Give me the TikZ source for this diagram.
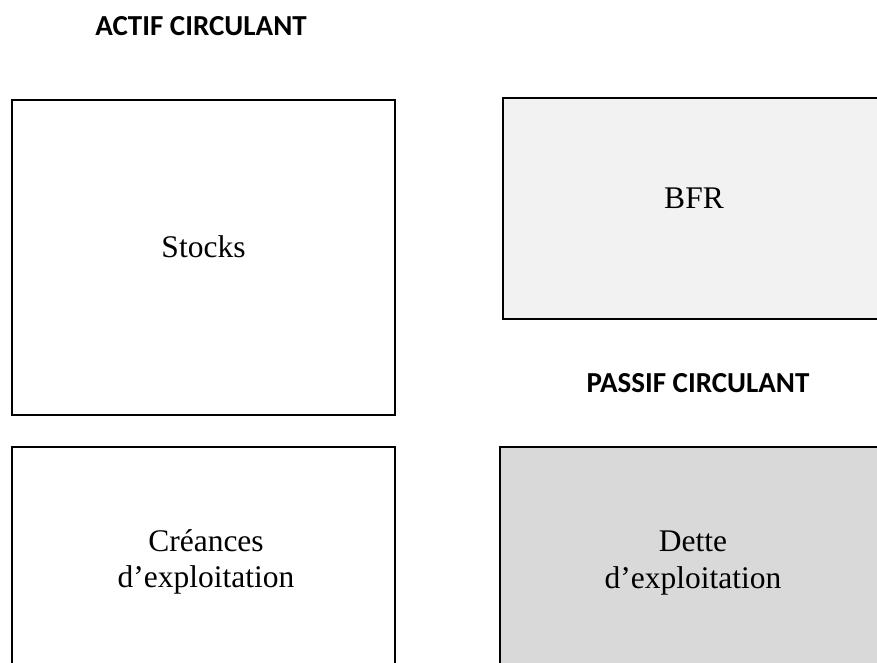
\documentclass[tikz,border=0pt]{standalone}
\usepackage{fontspec}
\setmainfont{Liberation Serif}
\newfontfamily\headfont{Carlito}
\usetikzlibrary{positioning}
\definecolor{bfrFill}{HTML}{F2F2F2}
\definecolor{detteFill}{HTML}{D9D9D9}
\tikzset{
    % Boxes
    posteBox/.style={
        rectangle,
        draw=black,
        line width=2.2pt,
        inner sep=0pt
    },
    % Texts
    posteText/.style={
        font=\fontsize{31.5}{36.5}\selectfont,
        align=center,
        inner sep=0pt
    },
    titreText/.style={
        font=\headfont\bfseries\fontsize{29}{33}\selectfont,
        inner sep=0pt,
        anchor=base
    }
}
\begin{document}
\begin{tikzpicture}[x=1pt, y=-1pt]

\clip (0,0) rectangle (877,662);
\fill[white] (0,0) rectangle (877,662);

% --- Titles ---
\node[titreText] (actif) at (201, 35) {ACTIF CIRCULANT};
\node[titreText] (passif) at (698, 392) {PASSIF CIRCULANT};

% --- Left column: actif ---
\node[posteBox, fill=white, minimum width=383pt, minimum height=315pt] (stocks) at (203.5, 257.5) {};
\node[posteText, anchor=base] (stocksTxt) at (203.5, 257) {Stocks};

\node[posteBox, fill=white, minimum width=383pt, minimum height=253pt] (creances) at (203.5, 573.5) {};
\node[posteText, anchor=north] (creancesTxt) at (206, 529) {Créances\\d’exploitation};

% --- Right column: BFR and passif ---
\node[posteBox, fill=bfrFill, minimum width=447pt, minimum height=221pt] (bfr) at (726.5, 208.5) {};
\node[posteText, anchor=base] (bfrTxt) at (694, 208) {BFR};

\node[posteBox, fill=detteFill, minimum width=450pt, minimum height=253pt] (dette) at (725, 573.5) {};
\node[posteText, anchor=north] (detteTxt) at (693, 531) {Dette\\d’exploitation};

\end{tikzpicture}
\end{document}
